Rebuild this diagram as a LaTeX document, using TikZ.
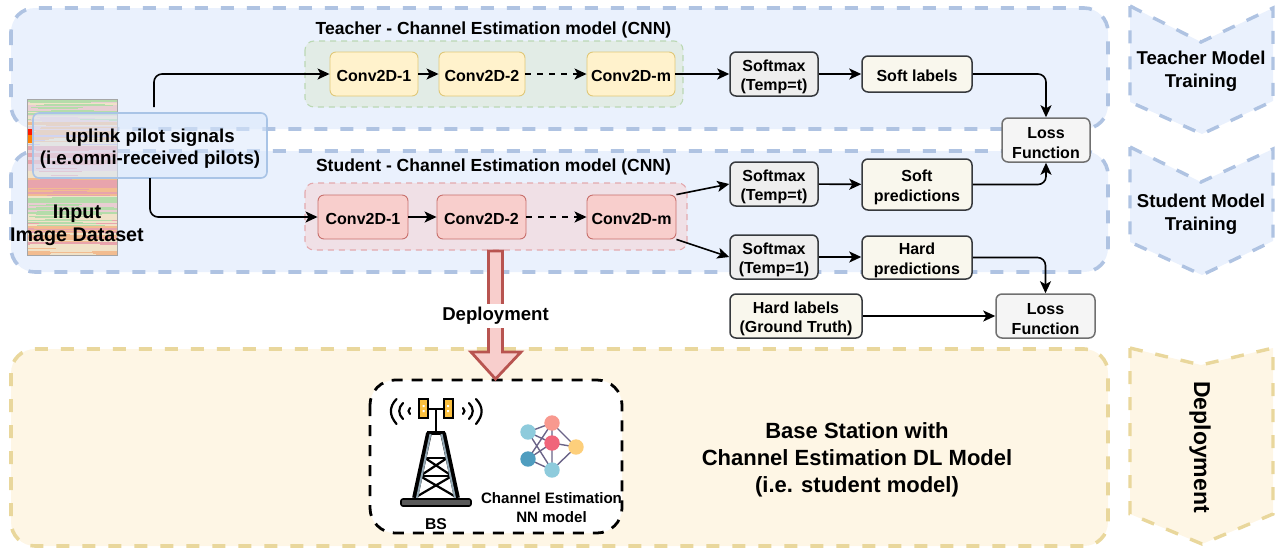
\documentclass[tikz,border=0pt]{standalone}
\usepackage{fontspec}
\setmainfont{Liberation Sans}
\usetikzlibrary{arrows.meta,shapes.arrows}
\newcommand{\tp}{\rule{0pt}{17pt}}
\definecolor{bluebg}{HTML}{EAF1FD}
\definecolor{bluedash}{HTML}{AFC3E2}
\definecolor{yelbg}{HTML}{FEF6E5}
\definecolor{yeldash}{HTML}{E9D79C}
\definecolor{greenbg}{HTML}{E2ECE6}
\definecolor{greendash}{HTML}{BBD8B4}
\definecolor{pinkbg}{HTML}{F0E0E6}
\definecolor{pinkdash}{HTML}{E3A9AE}
\definecolor{yfill}{HTML}{FFF2CC}
\definecolor{ydraw}{HTML}{E0C878}
\definecolor{rfill}{HTML}{F8CECC}
\definecolor{rdraw}{HTML}{C8706C}
\definecolor{darkbd}{HTML}{36393D}
\definecolor{softfill}{HTML}{EEEEEE}
\definecolor{creamfill}{HTML}{F9F7ED}
\definecolor{lossfill}{HTML}{F5F5F5}
\definecolor{lossdraw}{HTML}{707070}
\definecolor{upblue}{HTML}{DAE8FC}
\definecolor{updraw}{HTML}{A9C4E6}
\definecolor{arrowred}{HTML}{B85450}
\definecolor{sa}{HTML}{B4DCAA}
\definecolor{sb}{HTML}{E8A4AC}
\definecolor{sc}{HTML}{F2BC90}
\definecolor{sd}{HTML}{F0E2C8}
\definecolor{se}{HTML}{C8BCE4}
\definecolor{sf}{HTML}{E8CDD2}
\definecolor{nnedge}{HTML}{6B6488}
\definecolor{panel}{HTML}{FCC13F}
\definecolor{steel}{HTML}{94A9B5}
\tikzset{
  lane/.style={draw=bluedash,fill=bluebg,line width=3.6pt,dash pattern=on 13pt off 13pt,rounded corners=24pt},
  yellane/.style={draw=yeldash,fill=yelbg,line width=3.6pt,dash pattern=on 13pt off 13pt,rounded corners=24pt},
  chev/.style={draw=bluedash,fill=bluebg,line width=3.4pt,dash pattern=on 13pt off 13pt},
  ychev/.style={draw=yeldash,fill=yelbg,line width=3.4pt,dash pattern=on 13pt off 13pt},
  cnnbox/.style={line width=1.1pt,dash pattern=on 6pt off 5pt,rounded corners=9pt},
  txt/.style={font=\fontsize{16}{19.5}\selectfont\bfseries,align=center,inner sep=0pt},
  block/.style={txt,rounded corners=6pt,anchor=center,inner sep=0pt},
  tconv/.style={block,draw=ydraw,fill=yfill,line width=.9pt,minimum height=44pt},
  sconv/.style={block,draw=rdraw,fill=rfill,line width=.9pt,minimum height=44pt},
  softm/.style={block,draw=darkbd,fill=softfill,line width=1.5pt,minimum width=88pt,minimum height=44pt},
  cream/.style={block,draw=darkbd,fill=creamfill,line width=1.5pt,minimum width=110pt},
  lossb/.style={block,draw=lossdraw,fill=lossfill,line width=1.5pt,minimum height=44pt},
  arr/.style={-{Stealth[length=12pt,width=11pt,inset=3pt]},line width=1.6pt,black},
  neuron/.style={circle,minimum size=15.5pt,inner sep=0pt},
  nnl/.style={nnedge,line width=1.4pt},
}
\begin{document}
\begin{tikzpicture}[x=1pt,y=-1pt]
\useasboundingbox (0,0) rectangle (1282,547);
% lanes
\draw[lane] (11,8) rectangle (1108,129);
\draw[lane] (11,151) rectangle (1108,272);
\draw[yellane] (11,349) rectangle (1108,546);
% chevrons
\draw[chev] (1130,6) -- (1201,42) -- (1273,8) -- (1273,101) -- (1202,134) -- (1130,102) -- cycle;
\draw[chev] (1130,147) -- (1201,182) -- (1273,149) -- (1273,241) -- (1202,275) -- (1130,242) -- cycle;
\draw[ychev] (1130,348) -- (1201,365) -- (1273,348) -- (1273,514) -- (1202,544) -- (1130,514) -- cycle;
\node[txt,font=\fontsize{18.6}{23}\selectfont\bfseries] (lblt) at (1201,71) {Teacher Model\\Training};
\node[txt,font=\fontsize{18.6}{23}\selectfont\bfseries] (lbls) at (1201,214) {Student Model\\Training};
\node[txt,font=\fontsize{23}{26}\selectfont\bfseries,rotate=-90] (lbld) at (1200,447) {Deployment};
% image dataset
\begin{scope}
\clip (27,99) rectangle (117,255);
\fill[sd] (27,99) rectangle (117,255);
\pgfmathsetseed{4711}
\foreach \ya/\yb/\ca/\cb/\cc in {99/112/sa/sf/sd,112/122/sf/sa/sd,122/135/sc/sf/sd,135/146/sd/se/sc,146/178/sb/sf/sd,178/196/sb/sc/sb,196/212/sa/sf/sd,212/226/sa/sb/sd,226/242/sc/sd/sb,242/255/sd/sb/sc}{
  \foreach \n in {1,...,9}{
    \pgfmathsetmacro{\yt}{\ya+(\yb-\ya)*(\n-1)/9}
    \pgfmathsetmacro{\yh}{\ya+(\yb-\ya)*\n/9+.2}
    \pgfmathrandominteger{\pick}{1}{3}
    \pgfmathsetmacro{\xs}{27+random(0,30)}
    \pgfmathsetmacro{\xe}{70+random(0,50)}
    \ifnum\pick=1 \fill[\ca] (27,\yt) rectangle (117,\yh);\fi
    \ifnum\pick=2 \fill[\cb] (27,\yt) rectangle (117,\yh);\fi
    \ifnum\pick=3 \fill[\cc] (27,\yt) rectangle (117,\yh);\fi
    \fill[\ca] (\xs,\yt+.6) rectangle (\xe,\yt+1.4);
  }
}
\fill[red!80!orange] (27,129) rectangle (32,135);
\fill[orange] (27,135) rectangle (32,143);
\end{scope}
\draw[gray!70,line width=.4pt] (27,99) rectangle (117,255);
% uplink
\node[txt,draw=updraw,fill=upblue,fill opacity=.55,text opacity=1,line width=1.6pt,rounded corners=6pt,minimum width=234pt,minimum height=65pt,font=\fontsize{18.7}{21.5}\selectfont\bfseries] (up) at (150,145.5) {\rule{0pt}{20pt}uplink pilot signals\\(i.e.omni-received pilots)};
\node[txt,font=\fontsize{19.7}{23}\selectfont\bfseries] (inp) at (77,225) {Input\\Image Dataset};
% CNN containers
\draw[cnnbox,draw=greendash,fill=greenbg] (305,41) rectangle (683,107);
\draw[cnnbox,draw=pinkdash,fill=pinkbg] (305,183) rectangle (687,250);
\node[txt,font=\fontsize{17.5}{20}\selectfont\bfseries] (tt) at (493.5,30) {Teacher - Channel Estimation model (CNN)};
\node[txt,font=\fontsize{17.5}{20}\selectfont\bfseries] (st) at (493.5,167) {Student - Channel Estimation model (CNN)};
% teacher row
\node[tconv,minimum width=88pt] (t1) at (374,74) {\rule{0pt}{15pt}Conv2D-1};
\node[tconv,minimum width=86pt] (t2) at (482,74) {\rule{0pt}{15pt}Conv2D-2};
\node[tconv,minimum width=88pt] (tm) at (631,74) {\rule{0pt}{15pt}Conv2D-m};
\node[softm] (s1) at (774,74) {\tp Softmax\\(Temp=t)};
\node[cream,minimum height=36pt] (sl) at (917,74) {\rule{0pt}{15pt}Soft labels};
\node[lossb,minimum width=88pt] (l1) at (1046,140) {\tp Loss\\Function};
% student row
\node[sconv,minimum width=90pt] (c1) at (363,217) {\rule{0pt}{15pt}Conv2D-1};
\node[sconv,minimum width=89pt] (c2) at (481.5,217) {\rule{0pt}{15pt}Conv2D-2};
\node[sconv,minimum width=89pt] (cm) at (631.5,217) {\rule{0pt}{15pt}Conv2D-m};
\node[softm] (s2) at (774,184) {\tp Softmax\\(Temp=t)};
\node[cream,minimum height=51pt] (sp) at (917,184.5) {\tp Soft\\predictions};
\node[softm] (s3) at (774,257) {\tp Softmax\\(Temp=1)};
\node[cream,minimum height=43pt] (hp) at (917,257.5) {\tp Hard\\predictions};
\node[cream,minimum width=132pt,minimum height=44pt] (hl) at (796,316) {\tp Hard labels\\(Ground Truth)};
\node[lossb,minimum width=99pt] (l2) at (1045.5,316) {\tp Loss\\Function};
% connectors
\coordinate (upa) at (154,107);
\coordinate (upb) at (150,178);
\draw[arr,rounded corners=8pt] (upa) |- (t1.west);
\draw[arr,rounded corners=8pt] (upb) |- (c1.west);
\draw[arr] (t1) -- (t2);
\draw[arr,dash pattern=on 6pt off 6pt] (t2) -- (tm);
\draw[arr] (tm.east) -- (s1.west);
\draw[arr] (s1) -- (sl);
\draw[arr,rounded corners=8pt] (sl.east) -| (l1.north);
\draw[arr] (c1) -- (c2);
\draw[arr,dash pattern=on 6pt off 6pt] (c2) -- (cm);
\draw[arr] (cm.north east) -- (s2.west);
\draw[arr] (cm.south east) -- (s3.west);
\draw[arr] (s2) -- (sp);
\draw[arr] (s3.east) -- (hp.west |- s3.east);
\draw[arr,rounded corners=8pt] (sp.east) -| (l1.south);
\draw[arr,rounded corners=8pt] (hp.east) -| (l2.north);
\draw[arr] (hl) -- (l2);
% base-station box
\draw[black,fill=white,line width=2.8pt,dash pattern=on 11pt off 9pt,rounded corners=25pt] (370,380) rectangle (622,533);
% deployment arrow
\draw[arrowred,fill=rfill,line width=2.8pt,line join=miter] (488.5,251) -- (502.5,251) -- (502.5,352) -- (521,352) -- (495.5,379) -- (471,352) -- (488.5,352) -- cycle;
\node[txt,font=\fontsize{18.6}{20}\selectfont\bfseries,fill=white,inner sep=3pt] (dep) at (495.5,316) {Deployment};
% tower
\draw[black,line width=2.4pt] (436,410) -- (436,433);
\draw[black,line width=2.4pt] (428,409) -- (444,409);
\draw[black,fill=panel,line width=2.6pt] (419,399) rectangle (428,418);
\draw[black,fill=panel,line width=2.6pt] (444,399) rectangle (453,418);
\fill[white] (422.5,405) rectangle (424.5,407) (422.5,410) rectangle (424.5,412) (447,405) rectangle (449,407) (447,410) rectangle (449,412);
\draw[black,line width=2.2pt,line cap=round] (396.5,399) .. controls (389,407) and (389,415) .. (396.5,424);
\draw[black,line width=2.2pt,line cap=round] (403,403) .. controls (398,408) and (398,414) .. (403,419);
\draw[black,line width=2.2pt,line cap=round] (410,408) .. controls (408,410) and (408,412) .. (410,414);
\draw[black,line width=2.2pt,line cap=round] (476,399) .. controls (483.5,407) and (483.5,415) .. (476,424);
\draw[black,line width=2.2pt,line cap=round] (469,403) .. controls (474,408) and (474,414) .. (469,419);
\draw[black,line width=2.2pt,line cap=round] (463,408) .. controls (465,410) and (465,412) .. (463,414);
\draw[black,line width=2.2pt] (425,458) -- (447,458) (420,476) -- (452,476);
\draw[black,line width=2.2pt] (425,458) -- (452,476) (447,458) -- (420,476);
\draw[black,line width=2.2pt] (420,476) -- (456,497) (452,476) -- (416,497);
\draw[black,line width=5.8pt] (429,433) -- (415,498);
\draw[black,line width=5.8pt] (443,433) -- (457,498);
\draw[black,line width=4pt] (427,433) -- (445,433);
\draw[steel,line width=2pt] (430.5,434) -- (417,498);
\draw[steel,line width=2pt] (441.5,434) -- (455,498);
\draw[black,fill=gray!70!black,line width=1.6pt,rounded corners=2pt] (401,499) rectangle (471,506);
\node[txt,font=\fontsize{15.7}{17}\selectfont\bfseries] (bs) at (436,524) {BS};
% NN icon
\node[neuron] (n1) at (528,432) {};
\node[neuron] (n2) at (552,423) {};
\node[neuron] (n3) at (552,443) {};
\node[neuron] (n4) at (576,447) {};
\node[neuron] (n5) at (528,459) {};
\node[neuron] (n6) at (552,470) {};
\draw[nnl] (n1.center) -- (n2.center) (n1.center) -- (n3.center) (n1.center) -- (n6.center) (n2.center) -- (n5.center) (n2.center) -- (n4.center) (n2.center) -- (n3.center) (n3.center) -- (n4.center) (n3.center) -- (n5.center) (n3.center) -- (n6.center) (n4.center) -- (n6.center) (n5.center) -- (n6.center);
\fill[fill={rgb,255:red,142;green,203;blue,220}] (n1) circle (7.7);
\fill[fill={rgb,255:red,248;green,153;blue,143}] (n2) circle (7.7);
\fill[fill={rgb,255:red,240;green,101;blue,122}] (n3) circle (7.7);
\fill[fill={rgb,255:red,253;green,207;blue,123}] (n4) circle (7.7);
\fill[fill={rgb,255:red,79;green,157;blue,191}] (n5) circle (7.7);
\fill[fill={rgb,255:red,142;green,203;blue,220}] (n6) circle (7.7);
\node[txt,font=\fontsize{15.1}{19}\selectfont\bfseries] (nnt) at (551.5,508) {Channel Estimation\\NN model};
% base text
\node[txt,font=\fontsize{22}{27}\selectfont\bfseries] (base) at (857,459.5) {Base Station with\\Channel Estimation DL Model\\(i.e. student model)};
\end{tikzpicture}
\end{document}
